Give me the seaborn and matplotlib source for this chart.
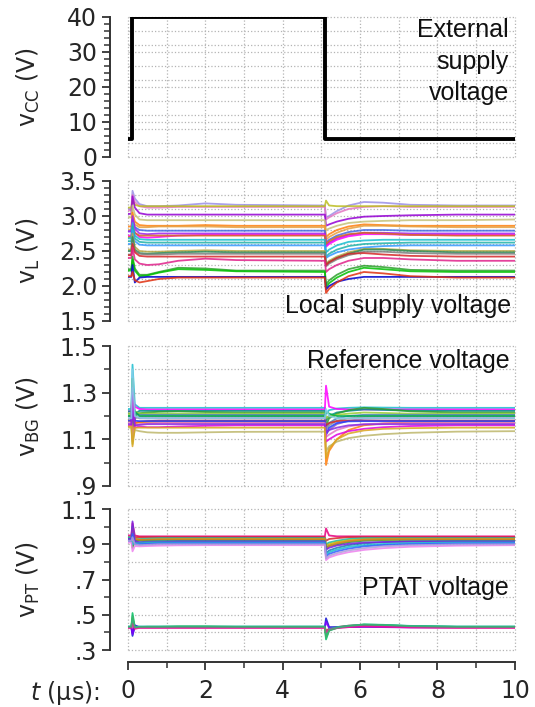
import numpy as np
import pandas as pd
import seaborn as sns
import matplotlib.pyplot as plt
import matplotlib.ticker as mticker

# time knots (us) shared by the local, reference and PTAT traces
t_knots = [0, 0.09, 0.12, 0.18, 0.3, 0.5, 0.8, 1.3, 2.0, 2.8,
           5.09, 5.12, 5.2, 5.4, 5.7, 6.1, 6.6, 7.3, 8.5, 10]

# external supply step
t_cc = [0, 0.1, 0.1, 5.1, 5.1, 10]
v_cc = [5, 5, 40, 40, 5, 5]

# local supply voltage traces
vl_colors = ['#9b8fe6', '#e377c2', '#bcbd22', '#9400d3', '#c5c27a', '#ff7f0e',
             '#e6a040', '#4169e1', '#a020f0', '#ff00ff', '#d2691e', '#17becf',
             '#20b2aa', '#3399ff', '#b5a642', '#2e8b57', '#7f7f7f', '#d62728',
             '#e0218a', '#2ca02c', '#00c000', '#0000cd', '#e03010']
vl_traces = [
    [3.10, 3.10, 3.36, 3.25, 3.17, 3.14, 3.14, 3.15, 3.18, 3.16, 3.15, 2.98, 3.00, 3.07, 3.15, 3.20, 3.19, 3.16, 3.15, 3.15],
    [3.08, 3.08, 3.30, 3.20, 3.14, 3.12, 3.12, 3.13, 3.13, 3.13, 3.13, 2.95, 2.98, 3.04, 3.10, 3.13, 3.14, 3.13, 3.13, 3.13],
    [3.12, 3.12, 3.22, 3.16, 3.14, 3.14, 3.14, 3.14, 3.14, 3.14, 3.14, 3.22, 3.15, 3.14, 3.14, 3.14, 3.14, 3.14, 3.14, 3.14],
    [3.03, 3.03, 3.28, 3.12, 3.04, 3.02, 3.02, 3.02, 3.02, 3.02, 3.02, 2.86, 2.88, 2.92, 2.96, 2.99, 3.00, 3.01, 3.02, 3.02],
    [2.98, 2.98, 3.15, 3.02, 2.95, 2.94, 2.94, 2.94, 2.94, 2.94, 2.94, 2.80, 2.82, 2.86, 2.90, 2.92, 2.93, 2.94, 2.94, 2.95],
    [2.85, 2.85, 3.05, 2.92, 2.87, 2.86, 2.86, 2.86, 2.87, 2.86, 2.86, 2.70, 2.74, 2.80, 2.85, 2.88, 2.87, 2.86, 2.86, 2.86],
    [2.80, 2.80, 2.98, 2.88, 2.84, 2.84, 2.85, 2.85, 2.85, 2.84, 2.84, 2.66, 2.70, 2.76, 2.82, 2.86, 2.86, 2.85, 2.84, 2.84],
    [2.78, 2.78, 2.95, 2.84, 2.80, 2.79, 2.79, 2.79, 2.79, 2.79, 2.79, 2.62, 2.66, 2.72, 2.77, 2.80, 2.80, 2.79, 2.79, 2.79],
    [2.78, 2.78, 3.00, 2.82, 2.75, 2.74, 2.75, 2.75, 2.75, 2.75, 2.75, 2.58, 2.62, 2.68, 2.73, 2.76, 2.76, 2.75, 2.75, 2.75],
    [2.72, 2.72, 2.90, 2.76, 2.70, 2.69, 2.70, 2.72, 2.73, 2.73, 2.73, 2.56, 2.60, 2.66, 2.71, 2.74, 2.74, 2.73, 2.73, 2.73],
    [2.70, 2.70, 2.85, 2.76, 2.72, 2.72, 2.72, 2.72, 2.72, 2.72, 2.72, 2.60, 2.64, 2.70, 2.74, 2.76, 2.75, 2.73, 2.72, 2.72],
    [2.68, 2.68, 2.90, 2.72, 2.67, 2.66, 2.66, 2.66, 2.66, 2.66, 2.66, 2.48, 2.52, 2.58, 2.63, 2.65, 2.66, 2.66, 2.66, 2.66],
    [2.64, 2.64, 2.85, 2.68, 2.63, 2.62, 2.62, 2.62, 2.62, 2.62, 2.62, 2.42, 2.46, 2.52, 2.57, 2.60, 2.61, 2.62, 2.62, 2.62],
    [2.60, 2.60, 2.80, 2.64, 2.59, 2.58, 2.58, 2.58, 2.58, 2.58, 2.58, 2.40, 2.43, 2.48, 2.52, 2.55, 2.57, 2.58, 2.58, 2.58],
    [2.52, 2.52, 2.75, 2.56, 2.50, 2.49, 2.49, 2.50, 2.51, 2.50, 2.50, 2.32, 2.36, 2.42, 2.48, 2.53, 2.53, 2.51, 2.50, 2.50],
    [2.50, 2.50, 2.70, 2.52, 2.47, 2.46, 2.47, 2.48, 2.49, 2.48, 2.48, 2.30, 2.34, 2.40, 2.46, 2.52, 2.52, 2.50, 2.48, 2.48],
    [2.45, 2.45, 2.62, 2.50, 2.46, 2.45, 2.45, 2.46, 2.46, 2.46, 2.46, 2.28, 2.32, 2.38, 2.44, 2.49, 2.49, 2.47, 2.46, 2.46],
    [2.44, 2.44, 2.60, 2.48, 2.43, 2.42, 2.42, 2.42, 2.42, 2.42, 2.42, 2.30, 2.34, 2.40, 2.46, 2.47, 2.45, 2.43, 2.42, 2.42],
    [2.40, 2.40, 2.55, 2.38, 2.32, 2.30, 2.31, 2.36, 2.39, 2.37, 2.36, 2.20, 2.24, 2.30, 2.36, 2.40, 2.40, 2.38, 2.36, 2.36],
    [2.24, 2.24, 2.42, 2.25, 2.16, 2.16, 2.20, 2.26, 2.25, 2.22, 2.22, 2.02, 2.08, 2.16, 2.24, 2.29, 2.27, 2.23, 2.22, 2.22],
    [2.22, 2.22, 2.38, 2.22, 2.14, 2.15, 2.19, 2.24, 2.23, 2.21, 2.20, 1.98, 2.04, 2.12, 2.20, 2.26, 2.24, 2.21, 2.20, 2.20],
    [2.13, 2.13, 2.30, 2.05, 2.12, 2.13, 2.13, 2.13, 2.13, 2.13, 2.13, 1.95, 2.00, 2.06, 2.10, 2.13, 2.13, 2.13, 2.13, 2.13],
    [2.14, 2.14, 2.20, 2.08, 2.05, 2.07, 2.10, 2.12, 2.12, 2.12, 2.12, 1.90, 1.96, 2.05, 2.14, 2.20, 2.18, 2.14, 2.12, 2.12],
]

# bandgap reference traces
bg_colors = ['#17becf', '#ff00ff', '#008b8b', '#2ca02c', '#9acd32', '#4682b4',
             '#8c8c8c', '#9467bd', '#00b050', '#d62728', '#ff7f0e', '#1f3fff',
             '#e377c2', '#e000e0', '#8a2be2', '#bdb76b', '#daa520', '#87ceeb']
bg_traces = [
    [1.23, 1.23, 1.42, 1.25, 1.235, 1.235, 1.235, 1.235, 1.235, 1.235, 1.235, 1.21, 1.225, 1.232, 1.235, 1.237, 1.236, 1.235, 1.235, 1.235],
    [1.22, 1.22, 1.30, 1.24, 1.23, 1.228, 1.228, 1.228, 1.228, 1.228, 1.228, 1.33, 1.24, 1.23, 1.228, 1.228, 1.228, 1.228, 1.228, 1.228],
    [1.22, 1.22, 1.12, 1.21, 1.222, 1.222, 1.222, 1.222, 1.222, 1.222, 1.222, 1.18, 1.20, 1.215, 1.222, 1.228, 1.226, 1.223, 1.222, 1.222],
    [1.21, 1.21, 1.36, 1.20, 1.212, 1.215, 1.218, 1.22, 1.217, 1.215, 1.215, 1.16, 1.19, 1.21, 1.225, 1.235, 1.23, 1.22, 1.215, 1.215],
    [1.21, 1.21, 1.08, 1.22, 1.21, 1.21, 1.21, 1.21, 1.21, 1.21, 1.21, 1.19, 1.20, 1.205, 1.21, 1.215, 1.213, 1.21, 1.21, 1.21],
    [1.20, 1.20, 1.28, 1.21, 1.205, 1.205, 1.205, 1.205, 1.205, 1.205, 1.205, 1.15, 1.17, 1.19, 1.20, 1.205, 1.205, 1.205, 1.205, 1.205],
    [1.20, 1.20, 1.10, 1.19, 1.196, 1.198, 1.198, 1.198, 1.198, 1.198, 1.198, 1.14, 1.16, 1.18, 1.19, 1.196, 1.198, 1.198, 1.198, 1.198],
    [1.19, 1.19, 1.32, 1.20, 1.19, 1.19, 1.19, 1.19, 1.19, 1.19, 1.19, 1.12, 1.14, 1.165, 1.18, 1.188, 1.19, 1.19, 1.19, 1.19],
    [1.20, 1.20, 1.14, 1.22, 1.20, 1.20, 1.20, 1.20, 1.20, 1.20, 1.20, 1.22, 1.21, 1.20, 1.20, 1.20, 1.20, 1.20, 1.20, 1.20],
    [1.18, 1.18, 1.26, 1.17, 1.175, 1.178, 1.18, 1.18, 1.18, 1.18, 1.18, 1.16, 1.17, 1.178, 1.18, 1.18, 1.18, 1.18, 1.18, 1.18],
    [1.18, 1.18, 1.12, 1.17, 1.172, 1.174, 1.175, 1.175, 1.175, 1.175, 1.175, 0.99, 1.05, 1.10, 1.14, 1.16, 1.168, 1.173, 1.175, 1.175],
    [1.18, 1.18, 1.24, 1.18, 1.178, 1.178, 1.178, 1.178, 1.178, 1.178, 1.178, 1.12, 1.15, 1.17, 1.177, 1.178, 1.178, 1.178, 1.178, 1.178],
    [1.17, 1.17, 1.10, 1.16, 1.165, 1.168, 1.17, 1.17, 1.17, 1.17, 1.17, 1.11, 1.12, 1.14, 1.155, 1.165, 1.168, 1.17, 1.17, 1.17],
    [1.16, 1.16, 1.30, 1.15, 1.155, 1.152, 1.152, 1.155, 1.158, 1.16, 1.16, 1.09, 1.10, 1.12, 1.135, 1.145, 1.152, 1.157, 1.16, 1.16],
    [1.165, 1.165, 1.22, 1.16, 1.162, 1.165, 1.165, 1.165, 1.165, 1.165, 1.165, 1.13, 1.14, 1.15, 1.16, 1.164, 1.165, 1.165, 1.165, 1.165],
    [1.15, 1.15, 1.09, 1.14, 1.135, 1.13, 1.128, 1.128, 1.13, 1.132, 1.133, 1.05, 1.07, 1.09, 1.105, 1.115, 1.122, 1.128, 1.133, 1.135],
    [1.155, 1.155, 1.07, 1.15, 1.15, 1.15, 1.15, 1.15, 1.15, 1.15, 1.15, 1.02, 1.06, 1.10, 1.125, 1.138, 1.145, 1.148, 1.15, 1.15],
    [1.19, 1.19, 1.40, 1.20, 1.192, 1.19, 1.19, 1.19, 1.19, 1.19, 1.19, 1.23, 1.20, 1.19, 1.19, 1.19, 1.19, 1.19, 1.19, 1.19],
]

# PTAT traces (upper and lower group)
pt_colors = ['#e6007e', '#d62728', '#1abc9c', '#c8b400', '#2ca02c', '#e08020',
             '#1f77b4', '#7b1fe0', '#17becf', '#3060ff', '#ee82ee', '#b19cd9',
             '#00c060', '#32cd32', '#d62728', '#1010d0', '#8000ff', '#20b2aa',
             '#ff1493', '#3cb371']
pt_traces = [
    [0.95, 0.95, 1.02, 0.95, 0.945, 0.945, 0.945, 0.945, 0.945, 0.945, 0.945, 0.99, 0.95, 0.945, 0.945, 0.945, 0.945, 0.945, 0.945, 0.945],
    [0.94, 0.94, 0.97, 0.94, 0.94, 0.94, 0.94, 0.94, 0.94, 0.94, 0.94, 0.92, 0.93, 0.935, 0.94, 0.94, 0.94, 0.94, 0.94, 0.94],
    [0.94, 0.94, 1.00, 0.93, 0.93, 0.932, 0.935, 0.935, 0.935, 0.935, 0.935, 0.90, 0.91, 0.92, 0.93, 0.935, 0.935, 0.935, 0.935, 0.935],
    [0.93, 0.93, 0.96, 0.93, 0.925, 0.925, 0.928, 0.93, 0.93, 0.93, 0.93, 0.89, 0.90, 0.912, 0.922, 0.928, 0.93, 0.93, 0.93, 0.93],
    [0.93, 0.93, 0.88, 0.92, 0.922, 0.924, 0.925, 0.925, 0.925, 0.925, 0.925, 0.88, 0.89, 0.90, 0.912, 0.92, 0.924, 0.925, 0.925, 0.925],
    [0.93, 0.93, 0.99, 0.93, 0.926, 0.926, 0.928, 0.928, 0.928, 0.928, 0.928, 0.87, 0.89, 0.905, 0.918, 0.926, 0.928, 0.928, 0.928, 0.928],
    [0.93, 0.93, 0.95, 0.91, 0.912, 0.915, 0.917, 0.918, 0.918, 0.918, 0.918, 0.85, 0.865, 0.88, 0.895, 0.905, 0.912, 0.916, 0.918, 0.918],
    [0.93, 0.93, 1.03, 0.92, 0.91, 0.91, 0.912, 0.915, 0.915, 0.915, 0.915, 0.87, 0.88, 0.893, 0.903, 0.91, 0.913, 0.915, 0.915, 0.915],
    [0.92, 0.92, 0.90, 0.905, 0.906, 0.908, 0.91, 0.91, 0.91, 0.91, 0.91, 0.84, 0.855, 0.87, 0.885, 0.895, 0.902, 0.907, 0.91, 0.91],
    [0.92, 0.92, 0.96, 0.90, 0.90, 0.902, 0.904, 0.905, 0.905, 0.905, 0.905, 0.83, 0.845, 0.86, 0.875, 0.888, 0.896, 0.901, 0.904, 0.905],
    [0.91, 0.91, 0.86, 0.89, 0.888, 0.89, 0.892, 0.894, 0.895, 0.895, 0.895, 0.81, 0.825, 0.84, 0.855, 0.868, 0.878, 0.886, 0.892, 0.895],
    [0.92, 0.92, 0.94, 0.90, 0.895, 0.897, 0.90, 0.90, 0.90, 0.90, 0.90, 0.82, 0.835, 0.85, 0.865, 0.878, 0.888, 0.895, 0.899, 0.90],
    [0.43, 0.43, 0.51, 0.43, 0.43, 0.43, 0.43, 0.432, 0.432, 0.43, 0.43, 0.36, 0.41, 0.425, 0.435, 0.445, 0.443, 0.436, 0.431, 0.43],
    [0.432, 0.432, 0.48, 0.425, 0.43, 0.432, 0.432, 0.434, 0.434, 0.432, 0.432, 0.38, 0.415, 0.428, 0.437, 0.443, 0.44, 0.435, 0.432, 0.432],
    [0.428, 0.428, 0.40, 0.43, 0.428, 0.428, 0.428, 0.428, 0.428, 0.428, 0.428, 0.41, 0.42, 0.43, 0.438, 0.44, 0.436, 0.43, 0.428, 0.428],
    [0.43, 0.43, 0.38, 0.44, 0.43, 0.43, 0.43, 0.43, 0.43, 0.43, 0.43, 0.48, 0.43, 0.43, 0.43, 0.432, 0.431, 0.43, 0.43, 0.43],
    [0.428, 0.428, 0.39, 0.435, 0.428, 0.428, 0.428, 0.428, 0.428, 0.428, 0.428, 0.46, 0.425, 0.428, 0.43, 0.432, 0.43, 0.428, 0.428, 0.428],
    [0.434, 0.434, 0.47, 0.43, 0.434, 0.434, 0.434, 0.434, 0.434, 0.434, 0.434, 0.39, 0.42, 0.43, 0.438, 0.444, 0.442, 0.437, 0.434, 0.434],
    [0.426, 0.426, 0.45, 0.42, 0.426, 0.426, 0.426, 0.426, 0.426, 0.426, 0.426, 0.40, 0.415, 0.424, 0.43, 0.434, 0.432, 0.428, 0.426, 0.426],
    [0.431, 0.431, 0.49, 0.428, 0.431, 0.431, 0.431, 0.432, 0.432, 0.431, 0.431, 0.37, 0.412, 0.426, 0.436, 0.444, 0.442, 0.435, 0.431, 0.431],
]

TICK_SIZE = 17


def traces_to_frame(traces):
    """ Long-format frame for seaborn from the per-trace value lists """
    rows = []
    for i, vals in enumerate(traces):
        for t, v in zip(t_knots, vals):
            rows.append((i, t, v))
    return pd.DataFrame(rows, columns=['trace', 't', 'v'])


def style_axis(ax, ylim, major, minor, grid_y, fmt, last=False):
    """ Offset spines, ticks and dotted grid like the reference """
    ax.set_xlim(0, 10)
    ax.set_ylim(*ylim)
    for side in ['top', 'right']:
        ax.spines[side].set_visible(False)
    ax.spines['left'].set_position(('outward', 13))
    ax.spines['left'].set_linewidth(1.4)
    ax.spines['left'].set_color('#333333')
    ax.yaxis.set_major_locator(mticker.FixedLocator(major))
    ax.yaxis.set_minor_locator(mticker.FixedLocator(minor))
    ax.yaxis.set_major_formatter(mticker.FuncFormatter(fmt))
    ax.tick_params(axis='y', which='major', direction='out', length=5.5, width=1.3,
                   color='#333333', labelsize=TICK_SIZE, pad=3.5)
    ax.tick_params(axis='y', which='minor', direction='out', length=4, width=1.1,
                   color='#333333')
    if last:
        ax.spines['bottom'].set_position(('outward', 8.5))
        ax.spines['bottom'].set_linewidth(1.4)
        ax.spines['bottom'].set_color('#333333')
        ax.xaxis.set_major_locator(mticker.FixedLocator([0, 2, 4, 6, 8, 10]))
        ax.xaxis.set_minor_locator(mticker.FixedLocator([1, 3, 5, 7, 9]))
        ax.tick_params(axis='x', which='major', direction='out', length=5.5, width=1.3,
                       color='#333333', labelsize=TICK_SIZE, pad=7)
        ax.tick_params(axis='x', which='minor', direction='out', length=4, width=1.1,
                       color='#333333')
    else:
        ax.spines['bottom'].set_visible(False)
        ax.tick_params(axis='x', which='both', bottom=False, labelbottom=False)
    for g in grid_y:
        ax.axhline(g, color='#b4b4b4', ls=':', lw=0.9, zorder=0, clip_on=False)
    for x in range(11):
        ax.axvline(x, color='#b4b4b4', ls=':', lw=0.9, zorder=0, clip_on=False)
    ax.set_xlabel('')


def int_fmt(v, pos):
    return f'{v:.0f}'


def one_dec_fmt(v, pos):
    return f'{v:.1f}'


def short_fmt(v, pos):
    s = f'{v:.1f}'
    return s[1:] if s.startswith('0') else s


sns.set_style('ticks')
plt.rcParams['font.family'] = ['DejaVu Sans']
plt.rcParams['mathtext.default'] = 'regular'

fig = plt.figure(figsize=(5.35, 7.07), dpi=100)
left, width, height = 0.239, 0.7234, 0.198
ax1 = fig.add_axes([left, 0.778, width, height])
ax2 = fig.add_axes([left, 0.546, width, height])
ax3 = fig.add_axes([left, 0.3126, width, height])
ax4 = fig.add_axes([left, 0.0806, width, 0.1994])

# external supply
sns.lineplot(x=t_cc, y=v_cc, sort=False, estimator=None, color='black', lw=2.8, ax=ax1)

# traces
for ax, traces, colors in [(ax2, vl_traces, vl_colors), (ax3, bg_traces, bg_colors),
                           (ax4, pt_traces, pt_colors)]:
    sns.lineplot(data=traces_to_frame(traces), x='t', y='v', hue='trace', palette=colors,
                 estimator=None, sort=False, legend=False, lw=1.3, alpha=0.85, ax=ax)

style_axis(ax1, (0, 40), [0, 10, 20, 30, 40], list(range(0, 41, 2)),
           [0, 4, 8, 10, 12, 16, 20, 22, 26, 30, 32, 36, 40], int_fmt)
style_axis(ax2, (1.5, 3.5), [1.5, 2.0, 2.5, 3.0, 3.5], list(np.arange(1.5, 3.51, 0.1)),
           [1.5, 1.7, 1.9, 2.0, 2.1, 2.3, 2.5, 2.6, 2.8, 3.0, 3.1, 3.3, 3.5], one_dec_fmt)
style_axis(ax3, (0.9, 1.5), [0.9, 1.1, 1.3, 1.5], [1.0, 1.2, 1.4],
           list(np.arange(0.9, 1.51, 0.1)), short_fmt)
style_axis(ax4, (0.3, 1.1), [0.3, 0.5, 0.7, 0.9, 1.1], [0.4, 0.6, 0.8, 1.0],
           list(np.arange(0.3, 1.11, 0.1)), short_fmt, last=True)

# y labels
for ax, lab in [(ax1, r'$v_{CC}$ (V)'), (ax2, r'$v_{L}$ (V)'),
                (ax3, r'$v_{BG}$ (V)'), (ax4, r'$v_{PT}$ (V)')]:
    ax.set_ylabel(lab, fontsize=17)
    ax.yaxis.set_label_coords(-0.222, 0.5)

# panel annotations
ann = dict(family='Liberation Sans', fontsize=18, ha='right', color='#111111')
ax1.text(0.984, 0.99, 'External\nsupply\nvoltage', transform=ax1.transAxes, va='top',
         linespacing=1.38, **ann)
ax2.text(0.99, 0.057, 'Local supply voltage', transform=ax2.transAxes, va='baseline', **ann)
ax3.text(0.987, 0.843, 'Reference voltage', transform=ax3.transAxes, va='baseline', **ann)
ax4.text(0.984, 0.39, 'PTAT voltage', transform=ax4.transAxes, va='baseline', **ann)

fig.text(100 / 535, 1 - 700 / 707, r'$\it{t}$ (µs):', fontsize=17, ha='right', va='baseline')

fig.savefig('out.png', dpi=100)
